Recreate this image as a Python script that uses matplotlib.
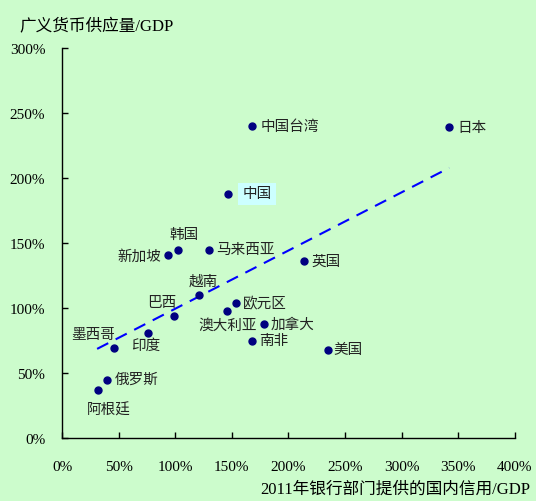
import matplotlib
matplotlib.use("Agg")
import matplotlib.pyplot as plt
import numpy as np

plt.rcParams['font.family'] = ['Liberation Serif', 'Noto Sans CJK SC', 'DejaVu Sans']

# 2011年数据 (%)
names = ['中国台湾', '日本', '中国', '韩国', '新加坡', '马来西亚', '英国', '越南', '欧元区',
         '澳大利亚', '巴西', '加拿大', '南非', '美国', '印度', '墨西哥', '俄罗斯', '阿根廷']
credit = [168, 342, 147, 102, 94, 130, 214, 121, 154, 146, 99, 178, 168, 235, 76, 46, 40, 32]
m2 = [240, 239, 188, 145, 141, 145, 136, 110, 104, 98, 94, 88, 75, 68, 81, 69, 45, 37]

# 趋势线
trend_slope = 0.448
trend_intercept = 54.7

# 标注位置 (偏移, 对齐)
offsets = {
    '中国台湾': (6, 0, 'left', 'center'),
    '日本': (6, 0, 'left', 'center'),
    '中国': (10, 0, 'left', 'center'),
    '韩国': (5, 6, 'center', 'bottom'),
    '新加坡': (-5, -1, 'right', 'center'),
    '马来西亚': (5, 0, 'left', 'center'),
    '英国': (5, 0, 'left', 'center'),
    '越南': (3, 5, 'center', 'bottom'),
    '欧元区': (5, 0, 'left', 'center'),
    '澳大利亚': (0, -5, 'center', 'top'),
    '巴西': (-9, 5, 'center', 'bottom'),
    '加拿大': (5, 0, 'left', 'center'),
    '南非': (5, 0, 'left', 'center'),
    '美国': (4, 0, 'left', 'center'),
    '印度': (-12, -4, 'left', 'top'),
    '墨西哥': (-15, 5, 'center', 'bottom'),
    '俄罗斯': (5, 0, 'left', 'center'),
    '阿根廷': (-8, -9, 'left', 'top'),
}

bg = '#ccfccc'
fig = plt.figure(figsize=(5.36, 5.02), dpi=100, facecolor=bg)
ax = fig.add_axes([0.1157, 0.1255, 0.845, 0.7765])
ax.set_facecolor(bg)

ax.scatter(credit, m2, s=25, color='#000080', zorder=3)

xs = np.array([min(credit) - 1, max(credit)])
ax.plot(xs, trend_slope * xs + trend_intercept, color='#0000ff', lw=1.5,
        dashes=(6, 4), zorder=2)

for n, x, y in zip(names, credit, m2):
    dx, dy, ha, va = offsets[n]
    kw = {}
    if n == '中国':
        kw['bbox'] = dict(boxstyle='square,pad=0.3', fc='#ccffff', ec='none')
    ax.annotate(n, (x, y), xytext=(dx, dy),
                textcoords='offset points', ha=ha, va=va, fontsize=10.5,
                color='#222222', **kw)

ax.set_xlim(0, 400)
ax.set_ylim(0, 300)
ax.set_xticks(np.arange(0, 401, 50))
ax.set_yticks(np.arange(0, 301, 50))
ax.set_xticklabels([f'{v}%' for v in range(0, 401, 50)], fontsize=11)
ax.set_yticklabels([f'{v}%' for v in range(0, 301, 50)], fontsize=11)
ax.tick_params(direction='in', length=4, width=1)
ax.tick_params(axis='x', pad=16)
ax.tick_params(axis='y', pad=12)
for s in ['top', 'right']:
    ax.spines[s].set_visible(False)
for s in ['left', 'bottom']:
    ax.spines[s].set_linewidth(1)

fig.text(0.037, 0.946, '广义货币供应量/GDP', fontsize=12, ha='left', va='center')
fig.text(0.99, 0.008, '2011年银行部门提供的国内信用/GDP', fontsize=12, ha='right', va='bottom')

fig.savefig('out.png', dpi=100, facecolor=bg)
